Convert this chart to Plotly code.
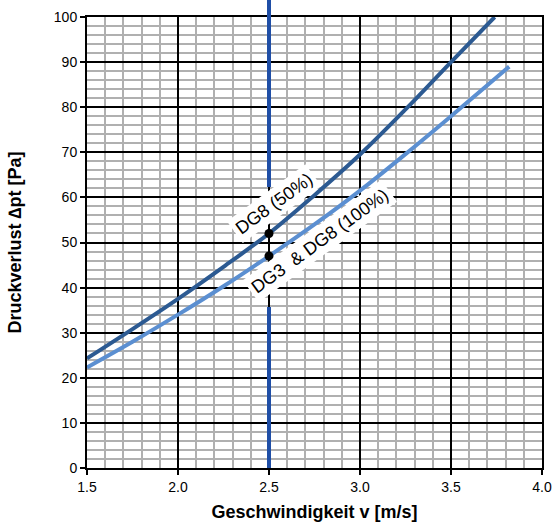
import plotly.graph_objects as go

# Data
v_dg8_50 = [1.5, 1.75, 2.0, 2.25, 2.5, 2.75, 3.0, 3.25, 3.5, 3.74]
dp_dg8_50 = [24.3, 30.8, 37.5, 44.6, 52.0, 60.5, 69.5, 79.5, 90.0, 100.0]

v_dg3_100 = [1.5, 1.75, 2.0, 2.25, 2.5, 2.75, 3.0, 3.25, 3.5, 3.82]
dp_dg3_100 = [22.3, 28.0, 34.0, 40.3, 47.0, 54.0, 61.5, 69.6, 78.0, 89.0]

v_ref = 2.5
ref_points = [52.0, 47.0]
ref_gap = [35.7, 62.3]   # where the blue marker line is interrupted by labels

x_ticks = [1.5, 2.0, 2.5, 3.0, 3.5, 4.0]
x_tick_labels = ["1.5", "2.0", "2.5", "3.0", "3.5", "4.0"]
y_ticks = [0, 10, 20, 30, 40, 50, 60, 70, 80, 90, 100]

label_dg8 = "DG8 (50%)"
label_dg3 = "DG3\u00a0 & DG8 (100%)"

FONT = "Liberation Sans, Arial, Helvetica, sans-serif"
dark = "#2C5A92"
light = "#5B8FD1"
blue = "#1F4EA6"

fig = go.Figure()
fig.add_trace(go.Scatter(x=v_dg8_50, y=dp_dg8_50, mode="lines",
                         line=dict(color=dark, width=4, shape="spline"),
                         hoverinfo="skip", showlegend=False))
fig.add_trace(go.Scatter(x=v_dg3_100, y=dp_dg3_100, mode="lines",
                         line=dict(color=light, width=4, shape="spline"),
                         hoverinfo="skip", showlegend=False))
fig.add_trace(go.Scatter(x=[v_ref] * len(ref_points), y=ref_points, mode="markers",
                         marker=dict(color="black", size=9),
                         hoverinfo="skip", showlegend=False))

# Blue reference line at v = 2.5 (two segments; the upper one runs past the top of the plot)
fig.add_shape(type="line", xref="x", yref="y", x0=v_ref, x1=v_ref, y0=0, y1=ref_gap[0],
              line=dict(color=blue, width=4), layer="above")
fig.add_shape(type="line", xref="x", yref="paper", x0=v_ref, x1=v_ref,
              y0=ref_gap[1] / 100.0, y1=1.05,
              line=dict(color=blue, width=4), layer="above")

fig.add_annotation(x=2.525, y=58.6, xref="x", yref="y", text=label_dg8,
                   textangle=-36, showarrow=False, bgcolor="white",
                   font=dict(family=FONT, size=18, color="black"), borderpad=3)
fig.add_annotation(x=2.78, y=50.3, xref="x", yref="y", text=label_dg3,
                   textangle=-36, showarrow=False, bgcolor="white",
                   font=dict(family=FONT, size=18, color="black"), borderpad=3)

fig.update_layout(
    width=553, height=527,
    margin=dict(l=87, r=11, t=17, b=59),
    paper_bgcolor="white", plot_bgcolor="white",
    font=dict(family=FONT, size=14, color="black"),
)
fig.update_xaxes(
    range=[1.5, 4.0], tickvals=x_ticks, ticktext=x_tick_labels, automargin=False,
    showgrid=True, gridcolor="black", gridwidth=2,
    minor=dict(dtick=0.1, showgrid=True, gridcolor="#B0B0B0", gridwidth=2, ticks=""),
    showline=True, linecolor="black", linewidth=2, mirror=True,
    ticks="outside", ticklen=5, tickwidth=2, tickcolor="black",
    zeroline=False, tickfont=dict(size=14),
    title=dict(text="<b>Geschwindigkeit v [m/s]</b>", font=dict(size=18), standoff=12),
)
fig.update_yaxes(
    range=[0, 100], tickvals=y_ticks, automargin=False,
    showgrid=True, gridcolor="black", gridwidth=2,
    minor=dict(dtick=2, showgrid=True, gridcolor="#B0B0B0", gridwidth=2, ticks=""),
    showline=True, linecolor="black", linewidth=2, mirror=True,
    ticks="outside", ticklen=5, tickwidth=2, tickcolor="black",
    zeroline=False, tickfont=dict(size=14),
    title=dict(text="<b>Druckverlust \u2206pt [Pa]</b>", font=dict(size=18), standoff=28),
)

fig.write_html("out.html", config={"displayModeBar": False},
               post_script="document.body.style.margin='0';document.body.style.overflow='hidden';")
